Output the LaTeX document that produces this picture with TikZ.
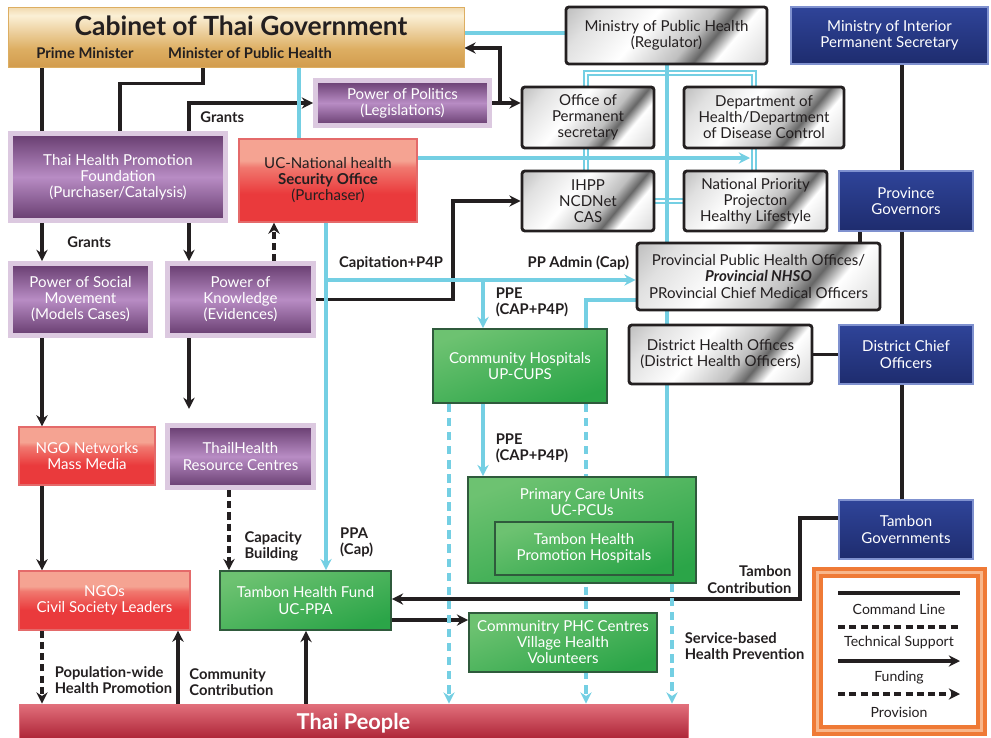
\documentclass[tikz,border=0pt]{standalone}
\usepackage{fontspec}
\setmainfont{Lato}
\usepackage{tikz}
\usetikzlibrary{arrows.meta,positioning,calc,backgrounds}

\definecolor{blk}{HTML}{231F20}
\definecolor{tech}{HTML}{74CFE3}
\definecolor{purD}{HTML}{4B2152}
\definecolor{purL}{HTML}{B88CC4}
\definecolor{lilac}{HTML}{DCC9E0}
\definecolor{redL}{HTML}{F5A392}
\definecolor{redD}{HTML}{EA3A3C}
\definecolor{redE}{HTML}{E46A6A}
\definecolor{grnL}{HTML}{6DC271}
\definecolor{grnD}{HTML}{2BA548}
\definecolor{grnE}{HTML}{2F5A3C}
\definecolor{bluL}{HTML}{2F4499}
\definecolor{bluD}{HTML}{1E2C6E}
\definecolor{bluE}{HTML}{7F91CF}
\definecolor{golD}{HTML}{C07F2C}
\definecolor{golM}{HTML}{DDAE62}
\definecolor{golL}{HTML}{FBF0D6}
\definecolor{pplD}{HTML}{A81D30}
\definecolor{pplL}{HTML}{E2707C}
\definecolor{orgD}{HTML}{EF7A36}
\definecolor{orgL}{HTML}{F8B68A}

\pgfdeclarehorizontalshading{metal}{100bp}{color(0bp)=(black!45); color(25bp)=(black!12); color(42bp)=(white); color(58bp)=(black!25); color(64bp)=(black!60); color(70bp)=(white); color(100bp)=(black!30)}
\pgfdeclareverticalshading{gold}{100bp}{color(0bp)=(golD); color(40bp)=(golM); color(68bp)=(golL); color(88bp)=(golM); color(100bp)=(golD)}
\pgfdeclareverticalshading{purp}{100bp}{color(0bp)=(purD); color(25bp)=(purD!75!purL); color(50bp)=(purL); color(75bp)=(purD!75!purL); color(100bp)=(purD)}
\pgfdeclareverticalshading{redsh}{100bp}{color(0bp)=(redD); color(42bp)=(redD); color(58bp)=(redL!60!redD); color(62bp)=(redL); color(100bp)=(redL)}

\begin{document}
\begin{tikzpicture}[
  x=0.025cm, y=-0.025cm,
  every node/.style={font=\fontsize{10.7}{11.4}\selectfont, align=center, inner sep=2pt},
  wh/.style 2 args={minimum width=#1*0.025cm, minimum height=#2*0.025cm},
  goldbox/.style={shading=gold, draw=golM, line width=0.5pt},
  silver/.style={shading=metal, shading angle=-40, draw=blk, line width=2pt, rounded corners=2pt, text=blk},
  purple/.style={shading=purp, draw=lilac, line width=3.5pt, text=white},
  redbox/.style={shading=redsh, draw=redE, line width=0.8pt, text=white},
  greenbox/.style={top color=grnL, bottom color=grnD, shading angle=20, draw=grnE, line width=1.2pt, text=white},
  bluebox/.style={top color=bluL, bottom color=bluD, draw=bluE, line width=1pt, text=white},
  peoplebar/.style={top color=pplL, bottom color=pplD, draw=pplL, line width=0.6pt, text=white,
    font=\fontsize{15.5}{17}\selectfont\bfseries},
  legbox/.style={fill=white, draw=orgD, line width=2.6pt, double=orgL, double distance=2pt},
  cmd/.style={draw=blk, line width=2.2pt},
  fund/.style={cmd, -{Stealth[length=8pt, width=8pt]}},
  provis/.style={fund, dash pattern=on 5pt off 3pt},
  tech/.style={draw=tech, line width=2.2pt},
  techarr/.style={tech, -{Stealth[length=8pt, width=8pt]}},
  techdash/.style={techarr, dash pattern=on 6pt off 4pt},
  dbl/.style={draw=tech, line width=1.5pt, double=white, double distance=1.4pt},
  lbl/.style={font=\fontsize{10.5}{11.4}\selectfont\bfseries, text=blk, align=left, inner sep=1pt},
  legtxt/.style={font=\fontsize{10}{12}\selectfont, text=blk}
]
\useasboundingbox (0,0) rectangle (991,737);

\coordinate (xA) at (42,0);
\coordinate (xB) at (120,0);
\coordinate (xT) at (178,0);
\coordinate (xC) at (189,0);
\coordinate (xD) at (203,0);
\coordinate (xE) at (229,0);
\coordinate (xF) at (274,0);
\coordinate (xG) at (299,0);
\coordinate (xU) at (306,0);
\coordinate (xH) at (326,0);
\coordinate (xK) at (449,0);
\coordinate (xI) at (453,0);
\coordinate (xJ) at (483,0);
\coordinate (xO) at (500,0);
\coordinate (xL) at (586,0);
\coordinate (xM) at (667,0);
\coordinate (xN) at (672,0);
\coordinate (xW) at (754,0);
\coordinate (xS) at (800,0);
\coordinate (xQ) at (860,0);
\coordinate (xR) at (902,0);
\coordinate (yI) at (0,33);
\coordinate (yA) at (0,48);
\coordinate (yB) at (0,73);
\coordinate (yC) at (0,158);
\coordinate (yD) at (0,280);
\coordinate (yE) at (0,300);
\coordinate (yT) at (0,518);
\coordinate (yG) at (0,599);
\coordinate (yH) at (0,620);
\coordinate (ucEnd) at (750,158);

\node[goldbox, wh={456}{60}] (cab) at (236,37) {};
\node[font=\fontsize{18.8}{21}\selectfont\bfseries, text=blk] (cabT) at (241,26) {Cabinet of Thai Government};
\node[lbl] (pm) at (85,53) {Prime Minister};
\node[lbl] (mop) at (250,53) {Minister of Public Health};

\node[silver, wh={201}{57}] (mph) at (666.5,35.5) {Ministry of Public Health\\(Regulator)};
\node[bluebox, wh={197}{57}] (moi) at (889.5,35.5) {Ministry of Interior\\Permanent Secretary};
\node[purple, wh={174}{45}] (pol) at (402.5,103) {Power of Politics\\(Legislations)};
\node[silver, wh={132}{61}] (off) at (588,117.5) {Office of\\Permanent\\secretary};
\node[silver, wh={160}{61}] (dept) at (764,117.5) {Department of\\Health/Department\\of Disease Control};
\node[purple, wh={215}{87}] (found) at (118,177) {Thai Health Promotion\\Foundation\\(Purchaser/Catalysis)};
\node[redbox, wh={178}{83}, text=blk] (uc) at (328,180.5) {UC-National health\\\textbf{Security Office}\\(Purchaser)};
\node[silver, wh={132}{60}] (ihpp) at (588,201) {IHPP\\NCDNet\\CAS};
\node[silver, wh={143}{60}] (npp) at (755.5,201) {National Priority\\Projecton\\Healthy Lifestyle};
\node[bluebox, wh={134}{60}] (pg) at (906,201) {Province\\Governors};
\node[silver, wh={243}{67}] (ppho) at (758.5,276.5) {Provincial Public Health Offices/\\\textbf{\textit{Provincial NHSO}}\\PRovincial Chief Medical Officers};
\node[purple, wh={140}{72}] (soc) at (80.5,299.5) {Power of Social\\Movement\\(Models Cases)};
\node[purple, wh={146}{72}] (know) at (240.5,299.5) {Power of\\Knowledge\\(Evidences)};
\node[greenbox, wh={174}{74}] (ch) at (520,366) {Community Hospitals\\UP-CUPS};
\node[silver, wh={183}{59}] (dho) at (720.5,354.5) {District Health Offices\\(District Health Officers)};
\node[bluebox, wh={134}{59}] (dco) at (906,354.5) {District Chief\\Officers};
\node[redbox, wh={136}{58}] (ngonet) at (87,456) {NGO Networks\\Mass Media};
\node[purple, wh={146}{62}] (res) at (240.5,456.5) {ThailHealth\\Resource Centres};
\node[greenbox, wh={228}{106}] (pcu) at (582,530) {};
\node[text=white] (pcuT) at (582,502) {Primary Care Units\\UC-PCUs};
\node[greenbox, wh={178}{53}] (thph) at (584,548.5) {Tambon Health\\Promotion Hospitals};
\node[bluebox, wh={134}{59}] (tg) at (906,529.5) {Tambon\\Governments};
\node[redbox, wh={171}{59}] (ngo) at (104.5,600.5) {NGOs\\Civil Society Leaders};
\node[greenbox, wh={171}{59}] (thf) at (305.5,600.5) {Tambon Health Fund\\UC-PPA};
\node[greenbox, wh={188}{59}] (phc) at (563,642.5) {Communitry PHC Centres\\Village Health\\Volunteers};
\node[peoplebar, wh={669}{38}] (people) at (353.5,723) {Thai People};

\begin{scope}[on background layer]
\draw[cmd] (cab.south -| xA) -- (found.north -| xA);
\draw[cmd] (cab.south -| xD) -- ++(0,16) -| (found.north -| xB);
\draw[fund] (found.north -| xC) |- node[lbl, pos=0.25, right=6pt] {Grants} (pol.west);
\draw[fund] (pol.east) -- (off.west |- pol.east);
\draw[fund] (pol.east -| xO) |- (cab.east |- yA);
\draw[fund] (found.south -| xA) -- node[lbl, right=16pt] {Grants} (soc.north -| xA);
\draw[fund] (found.south -| xC) -- (know.north -| xC);
\draw[provis] (know.north -| xF) -- (uc.south -| xF);
\draw[fund] (know.east) -- (know.east -| xI) |- (ihpp.west);
\draw[fund] (soc.south -| xA) -- (ngonet.north -| xA);
\draw[fund, shorten >=10pt] (know.south -| xC) -- (res.north -| xC);
\draw[fund] (ngonet.south -| xA) -- (ngo.north -| xA);
\draw[provis] (res.south -| xE) -- node[lbl, pos=0.7, right=9pt] {Capacity\\Building} (thf.north -| xE);
\draw[provis] (ngo.south -| xA) -- node[lbl, pos=0.68, right=7pt] {Population-wide\\Health Promotion} (people.north -| xA);
\draw[fund] (people.north -| xT) -- node[lbl, pos=0.3, right=6pt] {Community\\Contribution} (ngo.south -| xT);
\draw[fund] (people.north -| xU) -- (thf.south -| xU);
\draw[fund] (thf.east |- yH) -- (phc.west |- yH);
\draw[fund] (tg.west |- yT) -- (xS |- yT) |- node[lbl, pos=0.38, left=4pt, align=right] {Tambon\\Contribution} (thf.east |- yG);
\draw[cmd] (moi.south -| xR) -- (pg.north -| xR);
\draw[cmd] (pg.south -| xR) -- (dco.north -| xR);
\draw[cmd] (dco.south -| xR) -- (tg.north -| xR);
\draw[cmd] (pg.south -| xQ) -- (ppho.north -| xQ);
\draw[cmd] (dco.west) -- (dho.east);

\draw[tech] (cab.east |- yI) -- (mph.west |- yI);
\draw[tech] (cab.south -| xG) -- (uc.north -| xG);
\draw[dbl] (ihpp.north -| xL) |- (yB -| xW) -- (npp.north -| xW);
\draw[dbl] (ihpp.east) -- (npp.west);
\draw[tech] (mph.south -| xM) -- (ppho.north -| xM);
\draw[tech] (ppho.south -| xM) -- (dho.north -| xM);
\draw[tech] (dho.south -| xM) -- (pcu.north -| xM);
\draw[techarr] (uc.east |- yC) -- (ucEnd);
\draw[techarr] (uc.south -| xH) -- node[lbl, pos=0.92, right=8pt] {PPA\\(Cap)} (thf.north -| xH);
\draw[techarr] (xH |- yD) -- node[lbl, pos=0.21, above=5pt] {Capitation+P4P} node[lbl, pos=0.815, above=5pt] {PP Admin (Cap)} (ppho.west |- yD);
\draw[techarr] (xJ |- yD) -- node[lbl, pos=0.47, right=7pt] {PPE\\(CAP+P4P)} (ch.north -| xJ);
\draw[tech] (ppho.west |- yE) -| (ch.north -| xL);
\draw[techarr] (ch.south -| xJ) -- node[lbl, pos=0.62, right=7pt] {PPE\\(CAP+P4P)} (pcu.north -| xJ);
\draw[techdash] (ch.south -| xK) -- (people.north -| xK);
\draw[techdash] (ch.south -| xL) -- (people.north -| xL);
\draw[techdash] (pcu.south -| xN) -- node[lbl, pos=0.52, right=7pt] {Service-based\\Health Prevention} (people.north -| xN);
\end{scope}

\node[legbox, wh={164}{158}] (lgd) at (899.5,651.5) {};
\coordinate (l1a) at (838,593); \coordinate (l1b) at (960,593);
\coordinate (l2a) at (838,627); \coordinate (l2b) at (960,627);
\coordinate (l3a) at (838,661); \coordinate (l3b) at (960,661);
\coordinate (l4a) at (838,694); \coordinate (l4b) at (960,694);
\draw[cmd] (l1a) -- (l1b);
\draw[cmd, dash pattern=on 5pt off 3pt] (l2a) -- (l2b);
\draw[fund] (l3a) -- (l3b);
\draw[provis] (l4a) -- (l4b);
\node[legtxt] (lgC) at (899,609) {Command Line};
\node[legtxt] (lgT) at (899,643) {Technical Support};
\node[legtxt] (lgF) at (899,678) {Funding};
\node[legtxt] (lgP) at (899,712) {Provision};
\end{tikzpicture}
\end{document}
